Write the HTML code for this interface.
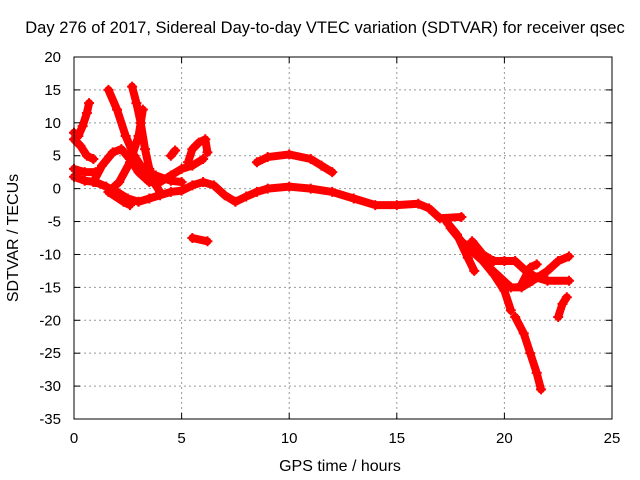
<!DOCTYPE html>
<html><head><meta charset="utf-8"><style>
body{margin:0;background:#fff}
svg{display:block;font-family:"Liberation Sans",sans-serif;font-size:15px}
</style></head><body>
<svg id="c" width="640" height="480">
<rect width="640" height="480" fill="#fff"/>
<g id="grid"></g><g id="tracks"></g>
<rect x="74" y="57" width="538" height="362" fill="none" stroke="#000" stroke-width="1"/>
<g id="ticks"></g>
<text x="325" y="33" text-anchor="middle" style="font-size:16.5px">Day 276 of 2017, Sidereal Day-to-day VTEC variation (SDTVAR) for receiver qsec</text>
<text x="340" y="471" text-anchor="middle" style="font-size:16px">GPS time / hours</text>
<text transform="translate(18,238) rotate(-90)" text-anchor="middle" style="font-size:16px">SDTVAR / TECUs</text>
</svg>
<script>
const xTicks=[0,5,10,15,20,25];
const yTicks=[20,15,10,5,0,-5,-10,-15,-20,-25,-30,-35];
const track1=[[0,8.5],[0.2,8],[0.4,9.5],[0.6,11.5],[0.7,13]];
const track2=[[0,7.5],[0.3,6.5],[0.6,5],[0.9,4.5]];
const track3=[[0,3],[0.5,2.5],[1,2.5]];
const track4=[[0,1.8],[0.5,1.2],[1,1],[1.5,0.3],[2,-0.5],[2.5,-1.5],[3,-2],[3.5,-1.5],[4,-1],[4.5,-0.5],[5,-0.3],[5.5,0.5],[6,1],[6.5,0.5],[7,-1],[7.5,-2],[8,-1.2],[8.5,-0.5],[9,0],[10,0.3],[11,0],[12,-0.5],[13,-1.5],[14,-2.5],[15,-2.5],[16,-2.3],[16.5,-3],[17,-4.5],[18,-4.3]];
const track5=[[8.5,4],[9,4.8],[10,5.2],[11,4.5],[11.5,3.5],[12,2.5]];
const track6=[[1.6,15],[2,12],[2.4,8],[2.8,5],[3.2,3],[3.8,2],[4.5,1.2],[5,1]];
const track7=[[2.7,15.5],[2.9,13],[3.1,10],[3.3,6],[3.5,3],[3.7,1],[4,-0.5]];
const track8=[[3.2,12],[3,8],[2.6,4],[2.1,1],[1.6,-0.5],[2.3,-2],[2.6,-2.5]];
const track9=[[0.9,1],[1.3,3.5],[1.8,5.5],[2.2,6],[2.6,4.5],[3,2.5],[3.5,1],[4,1],[4.5,2],[5,3],[5.5,3.5],[6,4.5]];
const track10=[[5.3,4],[5.5,6],[5.8,7],[6.1,7.5],[6.2,5.5]];
const track11=[[4.5,5],[4.7,5.8]];
const track12=[[5.5,-7.5],[6.2,-8]];
const track13=[[17.5,-6],[18,-8],[18.5,-9.5],[19,-11],[19.5,-13],[20,-15.5],[20.3,-18.5]];
const track14=[[17.3,-5],[17.8,-7],[18.3,-10.5],[18.6,-12.5]];
const track15=[[18.5,-8],[19,-10],[19.5,-11],[20,-11],[20.5,-11],[21,-12.5],[21.5,-13.5],[22,-14],[23,-14]];
const track16=[[19.3,-12],[19.8,-13.5],[20.3,-15],[20.8,-15],[21.3,-14],[22,-12.5],[22.5,-11],[23,-10.3]];
const track17=[[20.5,-19.5],[20.9,-22],[21.2,-25],[21.5,-28],[21.7,-30.5]];
const track18=[[22.5,-19.5],[22.7,-17.5],[22.9,-16.5]];
const track19=[[20.8,-14.5],[21.2,-12],[21.5,-11.5]];
const allTracks=[track1,track2,track3,track4,track5,track6,track7,track8,track9,track10,track11,track12,track13,track14,track15,track16,track17,track18,track19];
const NS="http://www.w3.org/2000/svg";
const X=v=>74+v*538/25, Y=v=>57+(20-v)*362/55;
function mk(t,a,p){const e=document.createElementNS(NS,t);for(const k in a)e.setAttribute(k,a[k]);p.appendChild(e);return e;}
const grid=document.getElementById('grid'),ticks=document.getElementById('ticks'),tr=document.getElementById('tracks');
xTicks.forEach(v=>{const x=X(v);
 if(v>0&&v<25){const l=mk('line',{x1:x,x2:x,y1:57,y2:419,stroke:'#999','stroke-dasharray':'2,3'},grid);}
 mk('line',{x1:x,x2:x,y1:419,y2:413,stroke:'#000'},ticks);mk('line',{x1:x,x2:x,y1:57,y2:63,stroke:'#000'},ticks);
 const t=mk('text',{x:x,y:443,'text-anchor':'middle'},ticks);t.textContent=v;
 });
yTicks.forEach(v=>{const y=Y(v);
 if(v<20&&v>-35){const l=mk('line',{x1:74,x2:612,y1:y,y2:y,stroke:'#999','stroke-dasharray':'2,3'},grid);}
 mk('line',{x1:74,x2:80,y1:y,y2:y,stroke:'#000'},ticks);mk('line',{x1:612,x2:606,y1:y,y2:y,stroke:'#000'},ticks);
 const t=mk('text',{x:61,y:y+5,'text-anchor':'end'},ticks);t.textContent=v;
 });
allTracks.forEach(tk=>{
 const pl=mk('polyline',{points:tk.map(p=>X(p[0])+','+Y(p[1])).join(' '),fill:'none',stroke:'#f00','stroke-width':8,'stroke-linejoin':'round','stroke-linecap':'round'},tr);
 
 
 tk.forEach(p=>{const x=X(p[0]),y=Y(p[1]);
  const m=mk('path',{d:`M${x-5},${y}h10M${x},${y-5}v10`,stroke:'#f00','stroke-width':2},tr);
  
  });
});
</script>
</body></html>
